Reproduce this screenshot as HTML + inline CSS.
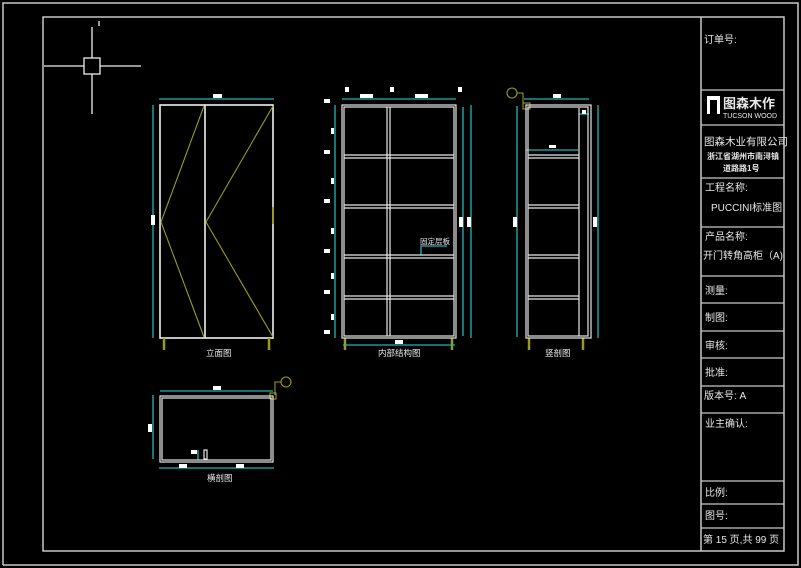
<!DOCTYPE html>
<html><head><meta charset="utf-8"><style>
body{margin:0;background:#000;width:801px;height:568px;overflow:hidden}
svg{display:block}
text{font-family:"Liberation Sans","Noto Sans CJK SC",sans-serif;fill:#e8e8e8}
</style></head><body>
<svg width="801" height="568" viewBox="0 0 801 568">
<g fill="none" stroke="#c8c8c8" stroke-width="1.5">
<polyline points="3,565 3,3 798,3 798,565 3,565"/>
<rect x="43" y="17" width="741" height="534"/>
<line x1="701" y1="17" x2="701" y2="551"/>
<g stroke-width="1.2">
<line x1="701" y1="90" x2="784" y2="90"/><line x1="701" y1="125" x2="784" y2="125"/>
<line x1="701" y1="178" x2="784" y2="178"/><line x1="701" y1="227" x2="784" y2="227"/>
<line x1="701" y1="276" x2="784" y2="276"/><line x1="701" y1="303" x2="784" y2="303"/>
<line x1="701" y1="331" x2="784" y2="331"/><line x1="701" y1="358" x2="784" y2="358"/>
<line x1="701" y1="386" x2="784" y2="386"/><line x1="701" y1="413" x2="784" y2="413"/>
<line x1="701" y1="481" x2="784" y2="481"/><line x1="701" y1="504" x2="784" y2="504"/>
<line x1="701" y1="528" x2="784" y2="528"/>
</g>
</g>
<g stroke="#eee" stroke-width="1.3" fill="none">
<line x1="44" y1="66" x2="84" y2="66"/><line x1="100" y1="66" x2="141" y2="66"/>
<line x1="92" y1="27" x2="92" y2="58"/><line x1="92" y1="74" x2="92" y2="114"/>
<rect x="84" y="58" width="16" height="16"/><line x1="99" y1="21" x2="99" y2="26"/>
</g>
<g font-size="10">
<text x="704" y="43">订单号:</text>
<text x="704" y="145" font-size="10.5">图森木业有限公司</text>
<text x="707" y="159" font-size="8" font-weight="bold">浙江省湖州市南浔镇</text>
<text x="723" y="171" font-size="8" font-weight="bold">道路路1号</text>
<text x="705" y="191">工程名称:</text>
<text x="711" y="211">PUCCINI标准图</text>
<text x="705" y="240">产品名称:</text>
<text x="703" y="259">开门转角高柜（A)</text>
<text x="705" y="294">测量:</text>
<text x="705" y="321">制图:</text>
<text x="705" y="349">审核:</text>
<text x="705" y="376">批准:</text>
<text x="704" y="399">版本号: A</text>
<text x="705" y="427">业主确认:</text>
<text x="705" y="496">比例:</text>
<text x="705" y="519">图号:</text>
<text x="703" y="543">第 15 页,共 99 页</text>
</g>
<rect x="707" y="96" width="13" height="18" fill="#fff"/>
<rect x="710" y="100" width="7" height="14" fill="#000"/>
<text x="723" y="108" font-size="13" font-weight="bold" fill="#fff">图森木作</text>
<text x="723" y="118" font-size="7" fill="#fff">TUCSON WOOD</text>

<g stroke="#f0f0f0" stroke-width="1.6" fill="none">
<rect x="160" y="105" width="113" height="233"/><line x1="205" y1="105" x2="205" y2="338"/>
</g>
<g stroke="#9a9a20" stroke-width="1.1" fill="none">
<polyline points="204,106 161,222 204,337"/><polyline points="273,106 206,222 273,337"/>
<line x1="273" y1="207" x2="273" y2="224" stroke-width="2"/>
<line x1="164" y1="338" x2="164" y2="350" stroke-width="2.5"/><line x1="269" y1="338" x2="269" y2="350" stroke-width="2.5"/>
<line x1="345" y1="338" x2="345" y2="350" stroke-width="2.5"/><line x1="452" y1="338" x2="452" y2="350" stroke-width="2.5"/>
<line x1="529" y1="338" x2="529" y2="350" stroke-width="2.5"/><line x1="583" y1="338" x2="583" y2="350" stroke-width="2.5"/>
<circle cx="512" cy="93" r="5"/><polyline points="517,93 523,93 523,104"/><rect x="523" y="103" width="7" height="6"/>
<circle cx="286" cy="382" r="5"/><polyline points="281,382 275,382 275,395"/><rect x="270" y="393" width="6" height="6"/>
</g>
<g stroke="#1fb5b5" stroke-width="1.3" fill="none">
<line x1="159" y1="99" x2="274" y2="99"/><line x1="153" y1="105" x2="153" y2="338"/>
<line x1="342" y1="99" x2="456" y2="99"/><line x1="335" y1="105" x2="335" y2="338"/>
<line x1="463" y1="107" x2="463" y2="336"/><line x1="471" y1="105" x2="471" y2="338"/>
<line x1="343" y1="345" x2="455" y2="345"/>
<polyline points="421,255 421,246 447,246"/>
<line x1="524" y1="99" x2="589" y2="99"/><line x1="517" y1="106" x2="517" y2="337"/>
<line x1="598" y1="105" x2="598" y2="338"/><line x1="526" y1="150" x2="578" y2="150"/>
<line x1="579" y1="114" x2="589" y2="114"/>
<line x1="160" y1="391" x2="273" y2="391"/><line x1="153" y1="395" x2="153" y2="459"/>
<line x1="159" y1="468" x2="274" y2="468"/><line x1="198" y1="450" x2="198" y2="460"/>
</g>
<g stroke="#e8e8e8" stroke-width="1.2" fill="none">
<rect x="342" y="105" width="114" height="233"/><rect x="344" y="107" width="110" height="229"/>
<line x1="387" y1="107" x2="387" y2="336"/><line x1="390" y1="107" x2="390" y2="336"/>
<line x1="344" y1="155" x2="454" y2="155"/><line x1="344" y1="158" x2="454" y2="158"/>
<line x1="344" y1="205" x2="454" y2="205"/><line x1="344" y1="208" x2="454" y2="208"/>
<line x1="344" y1="255" x2="454" y2="255"/><line x1="344" y1="258" x2="454" y2="258"/>
<line x1="344" y1="296" x2="454" y2="296"/><line x1="344" y1="299" x2="454" y2="299"/>
</g>
<g stroke="#e8e8e8" stroke-width="1.2" fill="none">
<rect x="526" y="105" width="65" height="233"/><rect x="528" y="107" width="60" height="229"/>
<line x1="579" y1="108" x2="579" y2="336"/>
<line x1="528" y1="155" x2="579" y2="155"/><line x1="528" y1="158" x2="579" y2="158"/>
<line x1="528" y1="205" x2="579" y2="205"/><line x1="528" y1="208" x2="579" y2="208"/>
<line x1="528" y1="255" x2="579" y2="255"/><line x1="528" y1="258" x2="579" y2="258"/>
<line x1="528" y1="296" x2="579" y2="296"/><line x1="528" y1="299" x2="579" y2="299"/>
</g>
<g stroke="#e8e8e8" stroke-width="1.2" fill="none">
<rect x="160" y="396" width="113" height="66"/><rect x="162" y="398" width="109" height="62"/>
<rect x="204" y="450" width="3" height="9"/>
</g>
<g fill="#fff">
<rect x="213" y="94" width="9" height="4"/><rect x="151" y="215" width="4" height="10"/>
<rect x="360" y="94" width="13" height="4"/><rect x="415" y="94" width="13" height="4"/>
<rect x="345" y="87" width="4" height="5"/><rect x="390" y="87" width="4" height="5"/><rect x="458" y="87" width="4" height="5"/>
<rect x="324" y="99" width="6" height="4"/><rect x="324" y="150" width="6" height="4"/><rect x="324" y="199" width="6" height="4"/>
<rect x="324" y="249" width="6" height="4"/><rect x="324" y="290" width="6" height="4"/><rect x="324" y="330" width="6" height="4"/>
<rect x="331" y="128" width="3" height="6"/><rect x="331" y="178" width="3" height="6"/><rect x="331" y="228" width="3" height="6"/>
<rect x="331" y="273" width="3" height="6"/><rect x="331" y="314" width="3" height="6"/>
<rect x="459" y="217" width="4" height="10"/><rect x="467" y="217" width="4" height="10"/>
<rect x="395" y="340" width="8" height="4"/>
<rect x="553" y="94" width="8" height="4"/><rect x="549" y="145" width="7" height="3"/><rect x="582" y="110" width="4" height="4"/>
<rect x="513" y="217" width="4" height="10"/><rect x="593" y="217" width="4" height="10"/>
<rect x="213" y="386" width="8" height="4"/><rect x="148" y="424" width="4" height="8"/>
<rect x="191" y="450" width="6" height="4"/><rect x="179" y="464" width="8" height="4"/><rect x="236" y="464" width="8" height="4"/>
</g>
<g font-size="8.5">
<text x="206" y="356">立面图</text>
<text x="378" y="356">内部结构图</text>
<text x="545" y="356">竖剖图</text>
<text x="207" y="481">横剖图</text>
<text x="420" y="244" font-size="7.5" fill="#bbb">固定层板</text>
</g>
</svg>
</body></html>
